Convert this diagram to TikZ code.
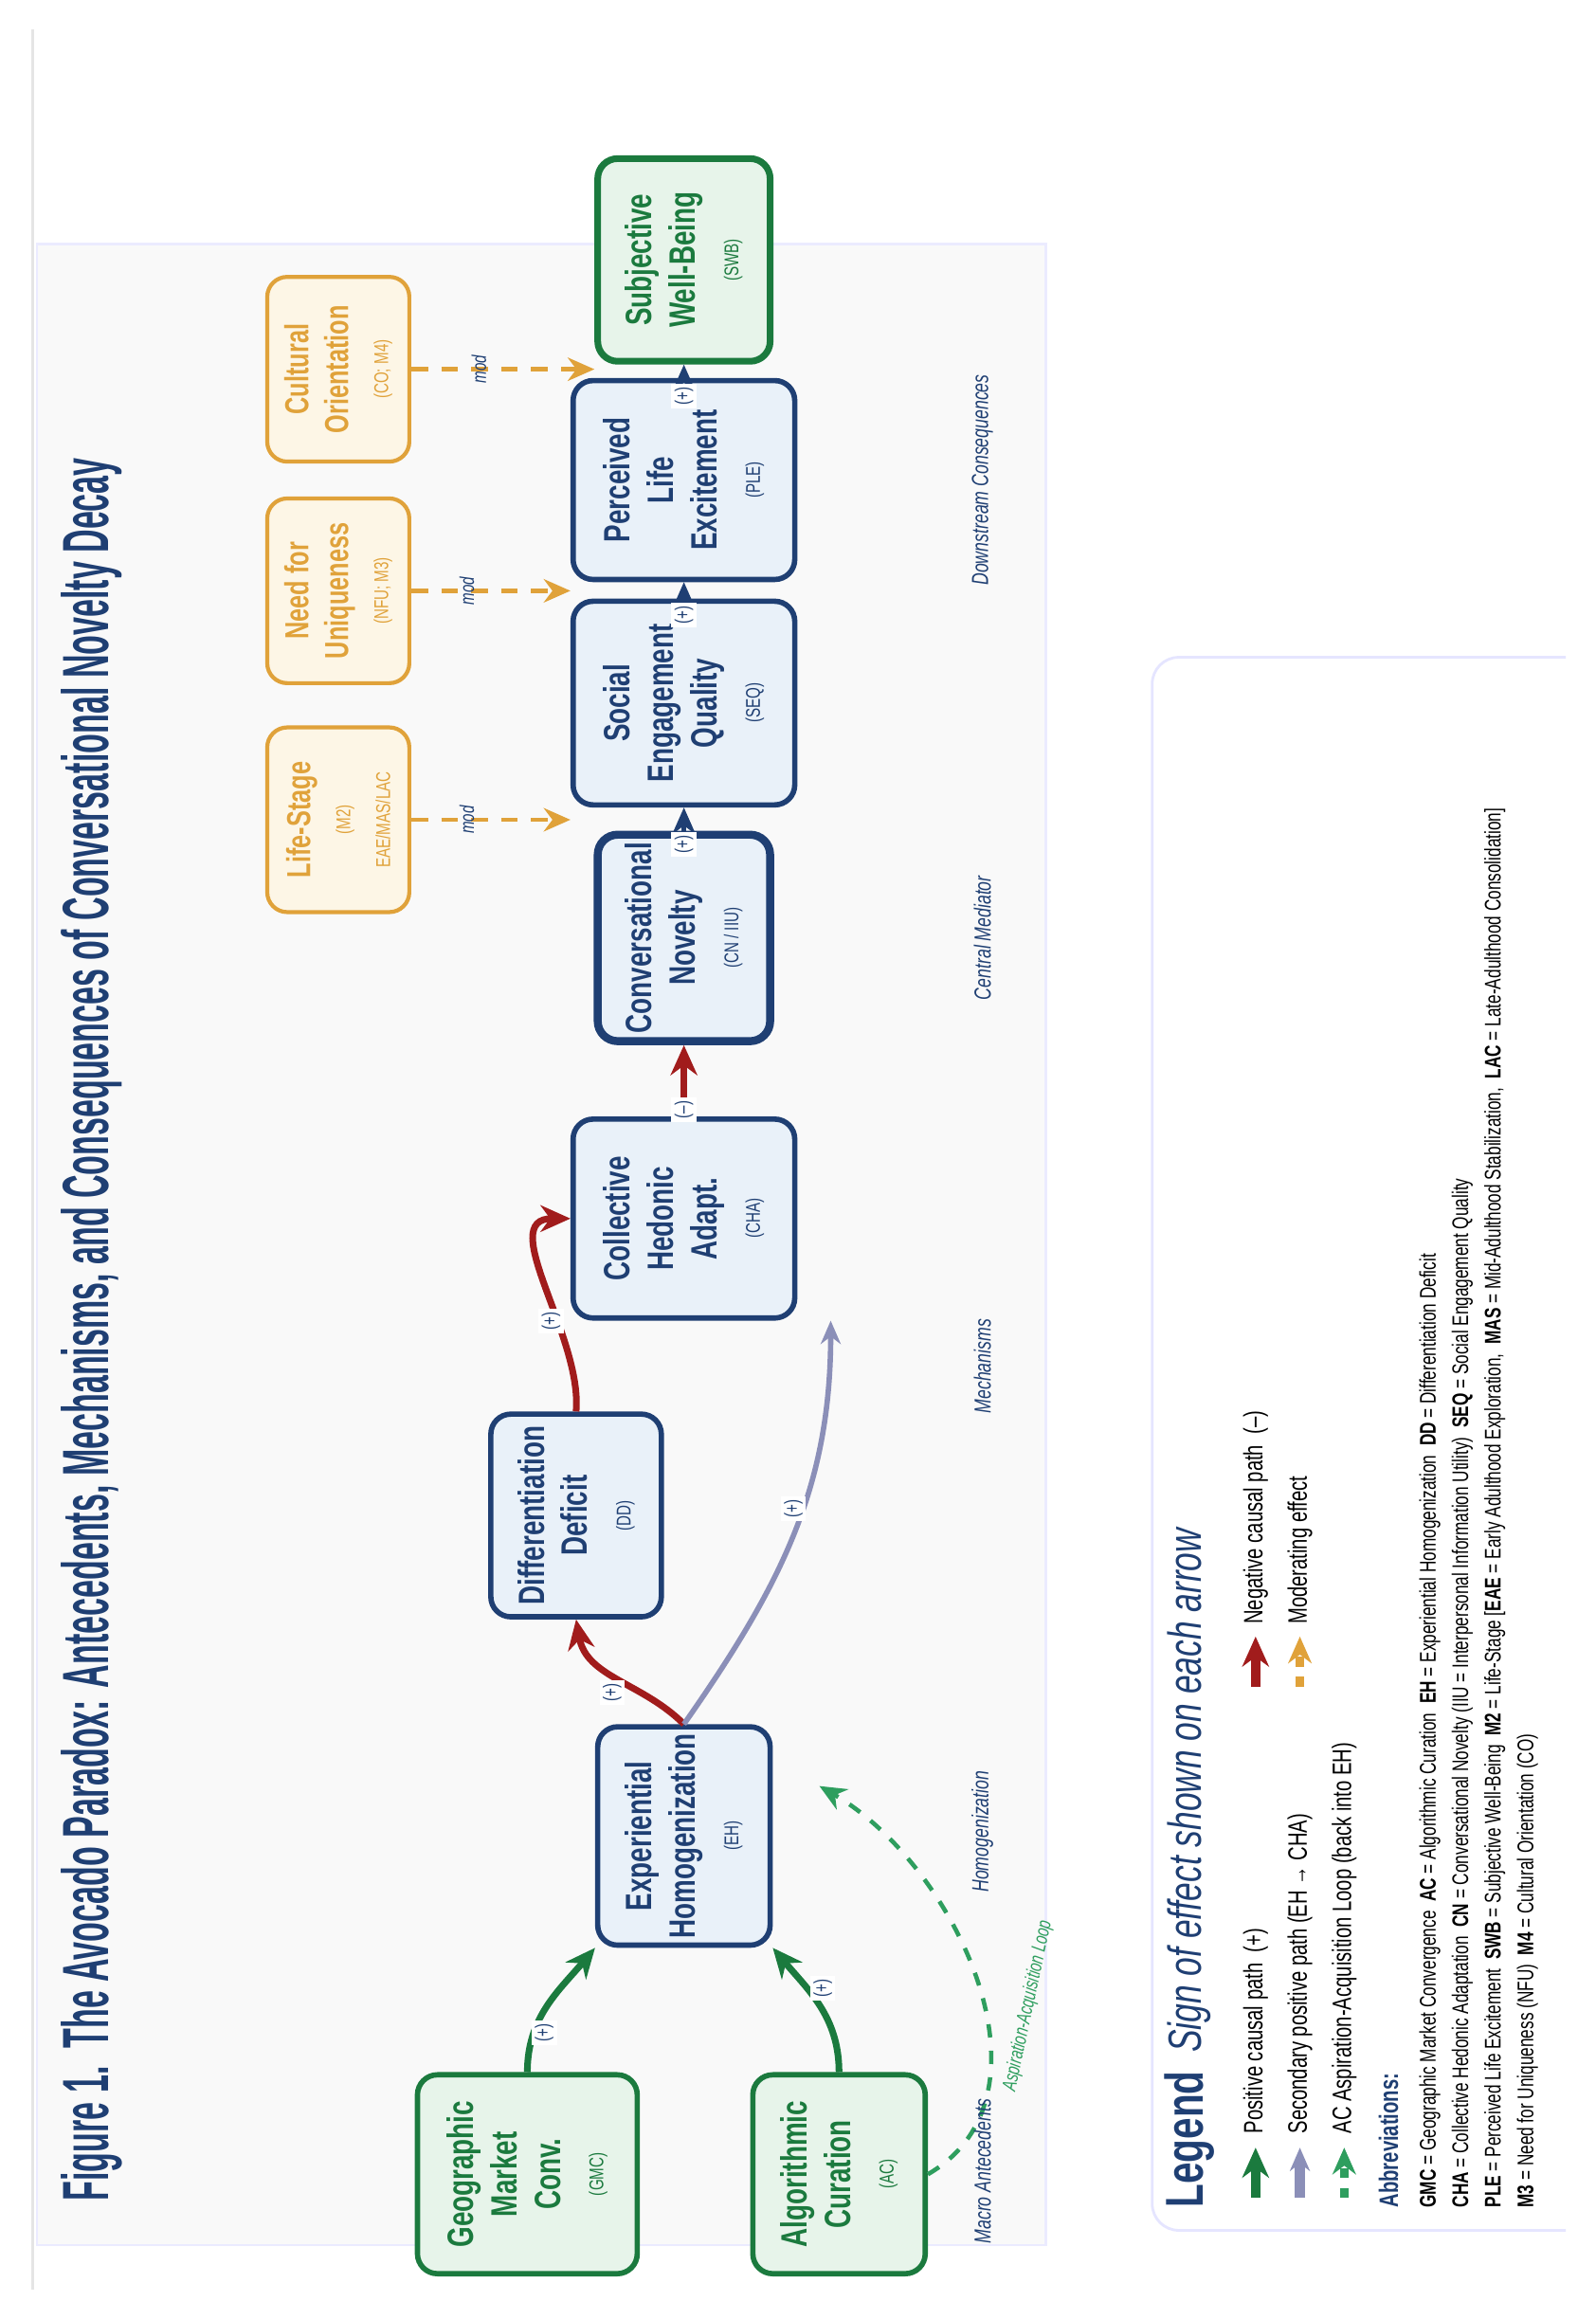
\documentclass[tikz,border=0pt]{standalone}
\usepackage{fontspec}
\setmainfont{Liberation Sans}[FakeStretch=0.72]
\usetikzlibrary{arrows.meta}
\definecolor{navy}{HTML}{1F3F73}
\definecolor{navyfill}{HTML}{E9F1F9}
\definecolor{grn}{HTML}{1B7A3E}
\definecolor{grnfill}{HTML}{E7F4EA}
\definecolor{orng}{HTML}{E0A23A}
\definecolor{orngfill}{HTML}{FDF6E6}
\definecolor{redd}{HTML}{A11C1C}
\definecolor{purp}{HTML}{8B8FB8}
\definecolor{loopgrn}{HTML}{2E9E5E}
\tikzset{
  box/.style={rotate=90, draw, rounded corners=6pt, line width=1.6pt, align=center,
    font=\bfseries\fontsize{11}{13}\selectfont, inner sep=2pt},
  navybox/.style={box, draw=navy, fill=navyfill, text=navy},
  grnbox/.style={box, draw=grn, fill=grnfill, text=grn},
  modbox/.style={box, draw=orng, fill=orngfill, text=orng, line width=1.2pt,
    font=\bfseries\fontsize{10}{12}\selectfont, minimum width=1.95cm, minimum height=1.5cm},
  sign/.style={rotate=90, font=\fontsize{6}{7}\selectfont, text=navy, fill=white, inner sep=1pt},
  stage/.style={rotate=90, font=\itshape\fontsize{7}{8}\selectfont, text=navy},
  posarrow/.style={-{Stealth[length=9pt,width=8pt]}, line width=2pt, draw=grn},
  negarrow/.style={-{Stealth[length=9pt,width=8pt]}, line width=2pt, draw=redd},
  secarrow/.style={-{Stealth[length=7pt,width=6pt]}, line width=1.6pt, draw=purp},
  chain/.style={-{Stealth[length=8pt,width=7pt]}, line width=1.6pt, draw=navy},
  moder/.style={-{Stealth[length=8pt,width=7pt]}, line width=1.3pt, draw=orng, dash pattern=on 5pt off 4pt},
  loopar/.style={-{Stealth[length=8pt,width=7pt]}, line width=1.3pt, draw=loopgrn, dash pattern=on 4pt off 4pt},
  modlbl/.style={rotate=90, font=\itshape\fontsize{6}{7}\selectfont, text=navy},
  leg/.style={rotate=90, anchor=west, font=\fontsize{8}{9}\selectfont, inner sep=0pt},
  abbr/.style={rotate=90, anchor=west, font=\fontsize{6.8}{8}\selectfont, inner sep=0pt}
}
\newcommand{\sub}[1]{{\fontsize{6}{8}\mdseries\selectfont #1}}
\begin{document}
\begin{tikzpicture}[x=0.01559cm, y=0.01559cm]
    \useasboundingbox[fill=white] (0,0) rectangle (1080,1570);
    % frame and panel
    \draw[draw=gray!20, line width=0.8pt] (22,20) -- (22,1550);
    \draw[fill=gray!5, draw=blue!8, line width=0.8pt] (25,50) rectangle (708,1405);

    % title
    \node[rotate=90, text=navy] (title) at (62,670)
      {\resizebox{18.4cm}{0.5cm}{\bfseries Figure 1.\ \ The Avocado Paradox: Antecedents, Mechanisms, and Consequences of Conversational Novelty Decay}};

    % antecedents
    \node[grnbox, minimum width=2.1cm, minimum height=2.32cm] (GMC) at (357,98) {Geographic\\Market\\Conv.\\\sub{(GMC)}};
    \node[grnbox, minimum width=2.1cm, minimum height=1.82cm] (AC) at (568,98) {Algorithmic\\Curation\\\sub{(AC)}};

    % chain
    \node[navybox, minimum width=2.14cm, minimum height=1.82cm] (EH) at (463,327) {Experiential\\Homogenization\\\sub{(EH)}};
    \node[navybox, minimum width=2.14cm, minimum height=1.8cm] (DD) at (390,544) {Differentiation\\Deficit\\\sub{(DD)}};
    \node[navybox, minimum width=2.1cm, minimum height=2.34cm] (CHA) at (463,745) {Collective\\Hedonic\\Adapt.\\\sub{(CHA)}};
    \node[navybox, line width=2.4pt, minimum width=2.18cm, minimum height=1.82cm] (CN) at (463,935) {Conversational\\Novelty\\\sub{(CN / IIU)}};
    \node[navybox, minimum width=2.15cm, minimum height=2.34cm] (SEQ) at (463,1094) {Social\\Engagement\\Quality\\\sub{(SEQ)}};
    \node[navybox, minimum width=2.1cm, minimum height=2.34cm] (PLE) at (463,1245) {Perceived\\Life\\Excitement\\\sub{(PLE)}};
    \node[grnbox, line width=2pt, minimum width=2.14cm, minimum height=1.82cm] (SWB) at (463,1394) {Subjective\\Well-Being\\\sub{(SWB)}};

    % moderators
    \node[modbox] (LS) at (229,1015) {Life-Stage\\\sub{(M2)}\\\sub{EAE/MAS/LAC}};
    \node[modbox] (NFU) at (229,1170) {Need for\\Uniqueness\\\sub{(NFU; M3)}};
    \node[modbox] (CO) at (229,1320) {Cultural\\Orientation\\\sub{(CO; M4)}};

    % causal paths
    \draw[posarrow] (GMC.east) to[out=90, in=-130] node[sign, pos=0.45, left=2pt] {(+)} (EH.north west);
    \draw[posarrow] (AC.east) to[out=90, in=-50] node[sign, pos=0.45, right=2pt] {(+)} (EH.south west);
    \draw[negarrow] (EH.east) to[out=135, in=-80] node[sign, pos=0.55, left=1pt] {(+)} (DD.west);
    \draw[negarrow] (DD.east) to[out=85, in=180] node[sign, pos=0.45, left=2pt] {(+)} (CHA.north);
    \draw[secarrow] (EH.east) to[out=55, in=-90] node[sign, pos=0.5, right=3pt] {(+)} ([xshift=10]CHA.south west);
    \draw[negarrow] (CHA.east) -- node[sign, left=4pt] {(–)} (CN.west);
    \draw[chain] (CN.east) -- node[sign, left=3pt] {(+)} (SEQ.west);
    \draw[chain] (SEQ.east) -- node[sign, left=3pt] {(+)} (PLE.west);
    \draw[chain] (PLE.east) -- node[sign, left=3pt] {(+)} (SWB.west);

    % moderating effects
    \draw[moder] (LS.south) -- node[modlbl, above=1pt] {mod} (LS.south -| SEQ.north);
    \draw[moder] (NFU.south) -- node[modlbl, above=1pt] {mod} (NFU.south -| PLE.north);
    \draw[moder] (CO.south) -- node[modlbl, above=1pt] {mod} (CO.south -| SWB.north);

    % aspiration-acquisition loop
    \draw[loopar] (AC.south) to[out=30, in=-30] ([xshift=14,yshift=15]EH.south);
    \node[rotate=78, text=loopgrn, font=\itshape\fontsize{6}{7}\selectfont] (looplbl) at (696,212) {Aspiration-Acquisition Loop};

    % stage labels
    \node[stage] (st1) at (665,100) {Macro Antecedents};
    \node[stage] (st2) at (665,330) {Homogenization};
    \node[stage] (st3) at (665,645) {Mechanisms};
    \node[stage] (st4) at (665,935) {Central Mediator};
    \node[stage] (st5) at (665,1245) {Downstream Consequences};

    % legend
    \draw[draw=blue!10, line width=0.8pt, fill=white, rounded corners=8pt] (1060,60) -- (780,60) -- (780,1125) -- (1060,1125);
    \node[leg, text=navy, font=\bfseries\fontsize{16}{18}\selectfont] (legtitle) at (805,75) {Legend};
    \node[leg, text=navy, font=\itshape\fontsize{14}{16}\selectfont] (legsub) at (805,180) {Sign of effect shown on each arrow};
    \draw[posarrow, line width=3pt] (850,82) -- (850,116);
    \node[leg] (l1) at (850,125) {Positive causal path \ (+)};
    \draw[negarrow, line width=3pt] (850,428) -- (850,462);
    \node[leg] (l2) at (850,470) {Negative causal path \ (–)};
    \draw[secarrow, line width=3pt] (880,82) -- (880,116);
    \node[leg] (l3) at (880,125) {Secondary positive path (EH → CHA)};
    \draw[moder, line width=2.4pt, dash pattern=on 3pt off 3pt] (880,428) -- (880,462);
    \node[leg] (l4) at (880,470) {Moderating effect};
    \draw[loopar, line width=2.4pt, dash pattern=on 3pt off 3pt] (910,82) -- (910,116);
    \node[leg] (l5) at (910,125) {AC Aspiration-Acquisition Loop (back into EH)};
    \node[leg, text=navy, font=\bfseries\fontsize{8}{9}\selectfont] (abbrtitle) at (940,75) {Abbreviations:};
    \node[abbr] (a1) at (968,75) {\textbf{GMC} = Geographic Market Convergence \ \textbf{AC} = Algorithmic Curation \ \textbf{EH} = Experiential Homogenization \ \textbf{DD} = Differentiation Deficit};
    \node[abbr] (a2) at (990,75) {\textbf{CHA} = Collective Hedonic Adaptation \ \textbf{CN} = Conversational Novelty (IIU = Interpersonal Information Utility) \ \textbf{SEQ} = Social Engagement Quality};
    \node[abbr] (a3) at (1012,75) {\textbf{PLE} = Perceived Life Excitement \ \textbf{SWB} = Subjective Well-Being \ \textbf{M2} = Life-Stage [\textbf{EAE} = Early Adulthood Exploration, \ \textbf{MAS} = Mid-Adulthood Stabilization, \ \textbf{LAC} = Late-Adulthood Consolidation]};
    \node[abbr] (a4) at (1034,75) {\textbf{M3} = Need for Uniqueness (NFU) \ \textbf{M4} = Cultural Orientation (CO)};
\end{tikzpicture}
\end{document}
